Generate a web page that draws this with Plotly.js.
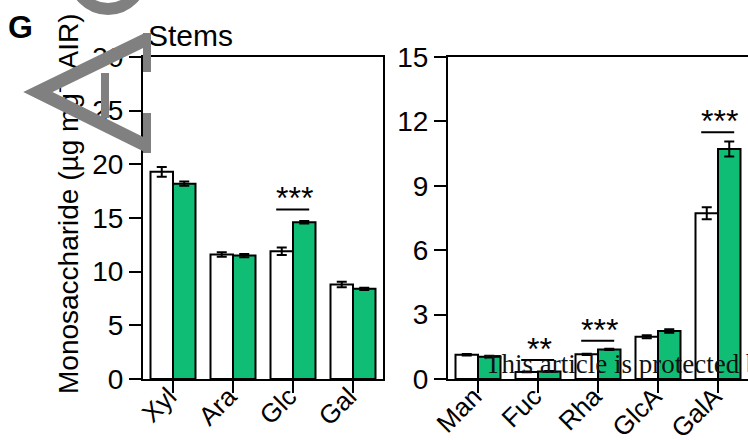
<!DOCTYPE html>
<html>
<head>
<meta charset="utf-8">
<script src="https://cdn.plot.ly/plotly-3.0.1.min.js"></script>
<style>
html,body{margin:0;padding:0;background:#fff;}
#wrap{position:relative;width:748px;height:440px;overflow:hidden;}
#chart{position:absolute;left:0;top:0;width:748px;height:440px;}
#wm{position:absolute;left:0;top:0;width:748px;height:440px;pointer-events:none;}
</style>
</head>
<body>
<div id="wrap">
<div id="chart"></div>
<svg id="wm" width="748" height="440" xmlns="http://www.w3.org/2000/svg">
  <circle cx="108" cy="-25" r="34" fill="none" stroke="#808080" stroke-width="12"/>
  <g stroke="#808080" fill="none">
    <path d="M147,39 L38,92 L147,146" stroke-width="13" stroke-linejoin="miter" stroke-miterlimit="10"/>
    <line x1="105" y1="73" x2="105" y2="118" stroke-width="8"/>
    <line x1="147" y1="33" x2="147" y2="72" stroke-width="8"/>
    <line x1="147" y1="113" x2="147" y2="153" stroke-width="8"/>
  </g>
</svg>
</div>
<script>
// ---- data ----
var leftCats = ['Xyl', 'Ara', 'Glc', 'Gal'];
var leftWT = [19.3, 11.6, 11.9, 8.8];
var leftWTErr = [0.45, 0.22, 0.35, 0.25];
var leftMut = [18.2, 11.5, 14.6, 8.4];
var leftMutErr = [0.2, 0.15, 0.12, 0.1];

var rightCats = ['Man', 'Fuc', 'Rha', 'GlcA', 'GalA'];
var rightWT = [1.13, 0.33, 1.15, 1.97, 7.72];
var rightWTErr = [0.03, 0.02, 0.03, 0.07, 0.28];
var rightMut = [1.04, 0.35, 1.38, 2.24, 10.71];
var rightMutErr = [0.04, 0.02, 0.03, 0.08, 0.35];

var leftTicks = [0, 5, 10, 15, 20, 25, 30];
var rightTicks = [0, 3, 6, 9, 12, 15];

var yTitle = 'Monosaccharide (µg mg<sup>-1</sup> AIR)';

// significance marks: category index, bar height, label
var sigLeftCat = [2];
var sigLeftY = [15.8];
var sigLeftText = ['***'];
var sigRightCat = [1, 2, 4];
var sigRightY = [0.88, 1.78, 11.49];
var sigRightText = ['**', '***', '***'];

// ---- styles ----
var GREEN = '#10BD75';
var FONT = 'Arial, "Liberation Sans", Helvetica, sans-serif';

function barTrace(cats, vals, errs, fill, xa, ya) {
  return {
    type: 'bar', x: cats, y: vals, xaxis: xa, yaxis: ya,
    marker: {color: fill, line: {color: '#000', width: 2}},
    error_y: {type: 'data', array: errs, visible: true, color: '#000', thickness: 2, width: 5},
    showlegend: false, hoverinfo: 'x+y'
  };
}

var data = [
  barTrace(leftCats, leftWT, leftWTErr, '#ffffff', 'x', 'y'),
  barTrace(leftCats, leftMut, leftMutErr, GREEN, 'x', 'y'),
  barTrace(rightCats, rightWT, rightWTErr, '#ffffff', 'x2', 'y2'),
  barTrace(rightCats, rightMut, rightMutErr, GREEN, 'x2', 'y2')
];

var shapes = [];
var annotations = [];
function addSig(idx, ys, texts, xr, yr) {
  for (var i = 0; i < idx.length; i++) {
    var c = idx[i];
    shapes.push({type: 'line', xref: xr, yref: yr, x0: c - 0.28, x1: c + 0.27, y0: ys[i], y1: ys[i],
      line: {color: '#000', width: 2}});
    annotations.push({xref: xr, yref: yr, x: c + 0.02, y: ys[i], text: texts[i], showarrow: false,
      yanchor: 'bottom', yshift: -9, font: {family: FONT, size: 32, color: '#000'}});
  }
}
addSig(sigLeftCat, sigLeftY, sigLeftText, 'x', 'y');
addSig(sigRightCat, sigRightY, sigRightText, 'x2', 'y2');

annotations.push({xref: 'paper', yref: 'paper', x: 6 / 748, y: 1 + 30 / 322, xanchor: 'left', yanchor: 'middle',
  text: '<b>G</b>', showarrow: false, font: {family: FONT, size: 32, color: '#000'}});
annotations.push({xref: 'paper', yref: 'paper', x: 66 / 748, y: (379 - 204) / 322, xanchor: 'center', yanchor: 'middle',
  textangle: -90, text: yTitle, showarrow: false, font: {family: FONT, size: 28, color: '#000'}});
annotations.push({xref: 'paper', yref: 'paper', x: 483 / 748, y: -2 / 322, xanchor: 'left', yanchor: 'bottom',
  text: 'This article is protected by copyright. All rights reserved.', showarrow: false,
  font: {family: '"Liberation Serif", "Times New Roman", serif', size: 27, color: '#111'}});

var tickFont = {family: FONT, size: 28, color: '#000'};
var xTickFont = {family: FONT, size: 26, color: '#000'};
var axBase = {showline: true, linecolor: '#000', linewidth: 2, mirror: true, showgrid: false, zeroline: false,
  ticks: 'outside', ticklen: 12, tickwidth: 2, tickcolor: '#000', tickfont: tickFont, fixedrange: true};

var layout = {
  width: 748, height: 440,
  margin: {l: 0, r: 0, t: 57, b: 61, pad: 0},
  paper_bgcolor: '#fff', plot_bgcolor: '#fff',
  barmode: 'group', bargap: 0.25, bargroupgap: 0,
  font: {family: FONT, color: '#000'},
  title: {text: 'Stems', x: 148 / 748, xref: 'paper', xanchor: 'left', yref: 'container', y: 1 - 46 / 440, yanchor: 'bottom',
    font: {family: FONT, size: 30, color: '#000'}},
  xaxis: Object.assign({}, axBase, {domain: [143 / 748, 383 / 748], range: [-0.5, 3.5], type: 'category', tickangle: -45,
    tickfont: xTickFont, ticklabelstandoff: -22, ticklabelshift: -4, anchor: 'y'}),
  yaxis: Object.assign({}, axBase, {domain: [0, 1], range: [0, 30], tickvals: leftTicks, ticktext: leftTicks.map(String), anchor: 'x'}),
  xaxis2: Object.assign({}, axBase, {domain: [448 / 748, 1], range: [-0.5, 4.5], type: 'category', tickangle: -45,
    tickfont: xTickFont, ticklabelstandoff: -22, ticklabelshift: -4, anchor: 'y2'}),
  yaxis2: Object.assign({}, axBase, {domain: [0, 1], range: [0, 15], tickvals: rightTicks, ticktext: rightTicks.map(String), anchor: 'x2'}),
  shapes: shapes,
  annotations: annotations
};

Plotly.newPlot('chart', data, layout, {displayModeBar: false, staticPlot: true});
</script>
</body>
</html>
